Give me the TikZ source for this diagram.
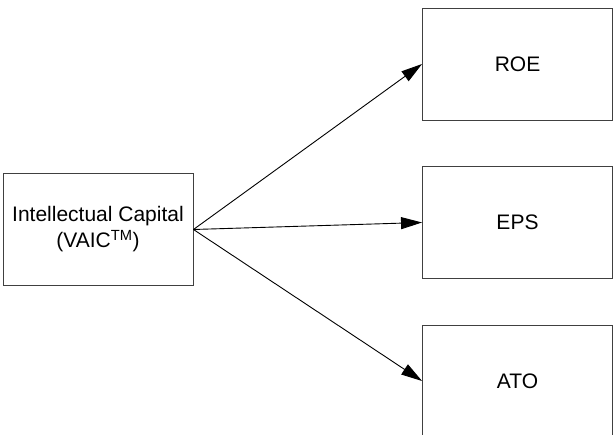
\documentclass[tikz,border=0pt]{standalone}
\usepackage{fontspec}
\setmainfont{Liberation Sans}
\usepackage{tikz}
\usetikzlibrary{arrows.meta}

\begin{document}
\begin{tikzpicture}
[
                     x =  1pt,
                     y = -1pt,
                    ->, >= {Triangle[length=21pt,width=12pt]},
              line width = 0.9pt,
              box/.style = { draw=black!75, rectangle, inner sep=0pt, minimum width=190pt, minimum height=112pt,
                             font=\fontsize{21}{26}\selectfont, align=center }
]

	\useasboundingbox (0,0) rectangle (615,435);

	\node (ic)  at ( 98  , 229.5) [box] {Intellectual Capital\\(VAIC\textsuperscript{TM})};
	\node (roe) at (517.5,  64  ) [box] {ROE};
	\node (eps) at (517.5, 222.5) [box] {EPS};
	\node (ato) at (517.5, 381  ) [box] {ATO};

	\draw (ic.east) -> (roe.west);
	\draw (ic.east) -> (eps.west);
	\draw (ic.east) -> (ato.west);

\end{tikzpicture}
\end{document}
